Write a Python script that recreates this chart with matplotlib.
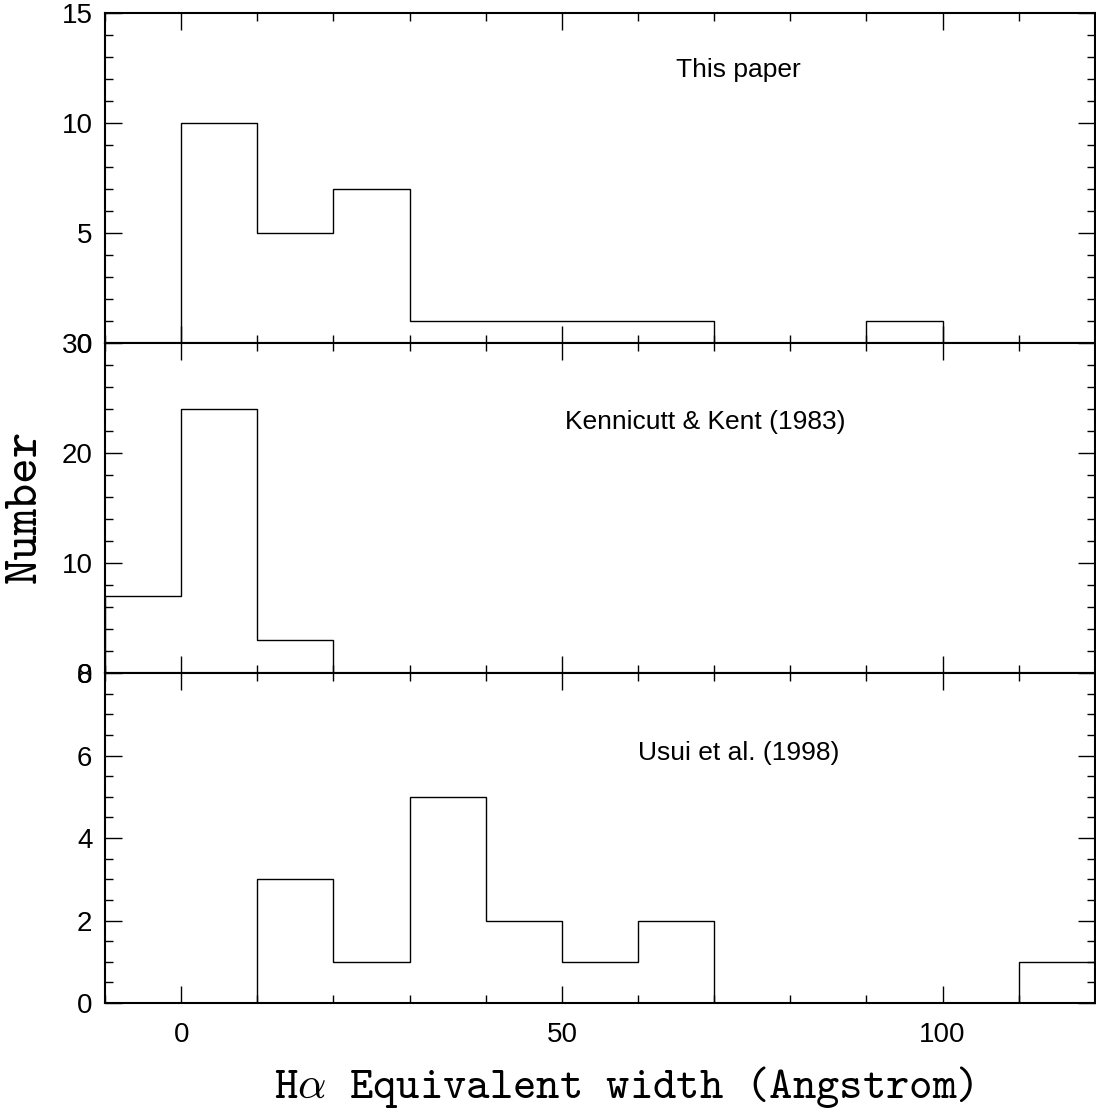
import numpy as np
import matplotlib
matplotlib.use("Agg")
import matplotlib.pyplot as plt
from matplotlib.ticker import MultipleLocator

plt.rcParams['font.family'] = ['Liberation Sans', 'DejaVu Sans']
plt.rcParams['mathtext.fontset'] = 'cm'

# Histogram data (bins of 10 Angstrom from -10 to 120)
bin_edges = [-10, 0, 10, 20, 30, 40, 50, 60, 70, 80, 90, 100, 110, 120]
this_paper = [0, 10, 5, 7, 1, 1, 1, 1, 0, 0, 1, 0, 0]
kennicutt_kent = [7, 24, 3, 0, 0, 0, 0, 0, 0, 0, 0, 0, 0]
usui = [0, 0, 3, 1, 5, 2, 1, 2, 0, 0, 0, 0, 1]

panel_labels = ["This paper", "Kennicutt & Kent (1983)", "Usui et al. (1998)"]
label_pos = [(73.2, 12.4), (68.8, 22.8), (73.2, 6.06)]
y_limits = [15, 30, 8]
y_major = [5, 10, 2]
y_minor = [1, 2, 0.5]
x_ticks = [0, 50, 100]

fig = plt.figure(figsize=(10.96, 11.12), dpi=100)
gs = fig.add_gridspec(3, 1, left=0.0958, right=0.999, top=0.9883, bottom=0.098, hspace=0)

series = [this_paper, kennicutt_kent, usui]
for i, counts in enumerate(series):
    ax = fig.add_subplot(gs[i])
    ax.stairs(counts, bin_edges, baseline=0, color='black', linewidth=1.0)
    ax.set_xlim(-10, 120)
    ax.set_ylim(0, y_limits[i])
    ax.xaxis.set_major_locator(MultipleLocator(50))
    ax.xaxis.set_minor_locator(MultipleLocator(10))
    ax.yaxis.set_major_locator(MultipleLocator(y_major[i]))
    ax.yaxis.set_minor_locator(MultipleLocator(y_minor[i]))
    ax.tick_params(which='both', direction='in', top=True, right=True, width=1.0)
    ax.tick_params(which='major', length=12, labelsize=20, pad=9)
    ax.tick_params(axis='x', which='major', pad=14)
    ax.tick_params(which='minor', length=6)
    for sp in ax.spines.values():
        sp.set_linewidth(1.5)
    if i < 2:
        ax.tick_params(labelbottom=False)
    else:
        ax.set_xticks(x_ticks)
    ax.text(label_pos[i][0], label_pos[i][1], panel_labels[i], fontsize=19,
            ha='center', va='center')

# axis titles in a typewriter serif face
fig.text(0.569, 0.0225, r"H$\alpha$ Equivalent width (Angstrom)",
         family=['cmtt10', 'DejaVu Sans Mono'], fontsize=32, ha='center', va='center')
fig.text(0.0237, 0.545, "Number", family=['cmtt10', 'DejaVu Sans Mono'], fontsize=35,
         rotation=90, ha='center', va='center')

fig.savefig("out.png", dpi=100)
